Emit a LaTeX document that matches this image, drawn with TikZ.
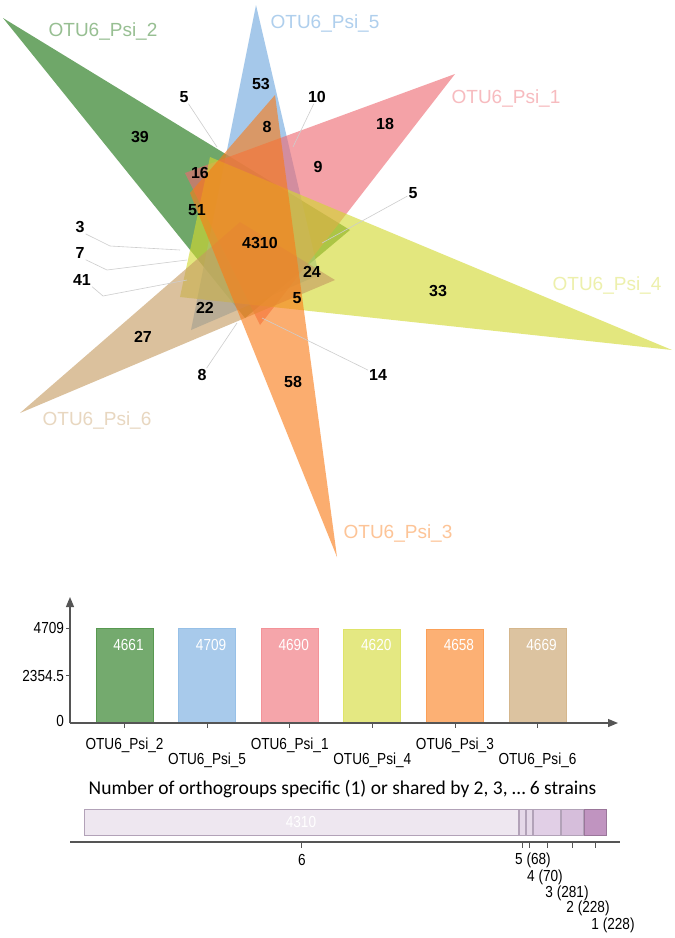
\documentclass[tikz,border=0pt]{standalone}
\usepackage{fontspec}
\setmainfont{Liberation Sans}
\newfontfamily\calibri{Carlito}
\usetikzlibrary{arrows.meta,positioning}
\definecolor{psitwo}{RGB}{23,113,13}
\definecolor{psifive}{RGB}{110,167,222}
\definecolor{psione}{RGB}{238,105,113}
\definecolor{psifour}{RGB}{210,217,47}
\definecolor{psithree}{RGB}{250,123,23}
\definecolor{psisix}{RGB}{197,155,97}
\definecolor{leadgray}{RGB}{205,205,205}
\definecolor{axisgray}{RGB}{85,85,85}
\definecolor{grpsix}{RGB}{238,231,240}
\definecolor{grpfive}{RGB}{229,216,232}
\definecolor{grpthree}{RGB}{225,207,230}
\definecolor{grptwo}{RGB}{214,190,219}
\definecolor{grpone}{RGB}{192,148,192}
\definecolor{lavgray}{RGB}{178,162,184}

\begin{document}
\begin{tikzpicture}[x=1pt,y=-1pt,
    setlbl/.style={font=\fontsize{19}{21}\selectfont},
    num/.style={font=\fontsize{16}{18}\selectfont\bfseries, inner sep=1pt},
    leader/.style={draw=leadgray, line width=0.6pt},
    cond/.style={xscale=0.85, inner sep=1pt, font=\fontsize{16}{18}\selectfont},
    axis/.style={draw=axisgray, line width=1.2pt}]
    \fill[white] (0,0) rectangle (675,938);
    \useasboundingbox (0,0) rectangle (675,938);

    % six triangles
    \coordinate (G1) at (3,18);    \coordinate (G2) at (350,230); \coordinate (G3) at (245,318);
    \coordinate (B1) at (256,5);   \coordinate (B2) at (191,330); \coordinate (B3) at (319,275);
    \coordinate (P1) at (455,74);  \coordinate (P2) at (185,173); \coordinate (P3) at (260,325);
    \coordinate (Y1) at (672,350); \coordinate (Y2) at (210,157); \coordinate (Y3) at (180,297);
    \coordinate (S1) at (20,413);  \coordinate (S2) at (240,222); \coordinate (S3) at (335,280);
    \coordinate (O1) at (337,557); \coordinate (O2) at (275,95);  \coordinate (O3) at (190,193);
    \foreach \t/\col in {G/psitwo,B/psifive,P/psione,Y/psifour,S/psisix,O/psithree}
        \fill[fill=\col, fill opacity=0.62] (\t1) -- (\t2) -- (\t3) -- cycle;

    % set names
    \node[setlbl, text=psitwo!45]   (set2) at (103,31)  {OTU6\_Psi\_2};
    \node[setlbl, text=psifive!55]  (set5) at (325,23)  {OTU6\_Psi\_5};
    \node[setlbl, text=psione!45]   (set1) at (506,98)  {OTU6\_Psi\_1};
    \node[setlbl, text=psifour!40]  (set4) at (607,285) {OTU6\_Psi\_4};
    \node[setlbl, text=psisix!40]   (set6) at (97,420)  {OTU6\_Psi\_6};
    \node[setlbl, text=psithree!45] (set3) at (398,533) {OTU6\_Psi\_3};

    % region counts
    \foreach \nm/\x/\y/\txt in {n53/261/84/53, nfivea/184/97/5, nten/317/97/10, n39/140/137/39,
        neighta/267/127/8, n18/385/124/18, n16/200/173/16, nnine/318/167/9, n51/197/210/51,
        nfiveb/413/193/5, nthree/80/227/3, nseven/80/253/7, n41/82/280/41, nall/260/243/4310,
        n24/312/272/24, nfivec/297/298/5, n33/438/291/33, n22/205/308/22, n27/143/337/27,
        neightb/202/375/8, n58/293/382/58, n14/378/375/14}
        \node[num] (\nm) at (\x,\y) {\txt};

    % leader lines
    \coordinate (pfivea) at (217,147);
    \coordinate (pten) at (293,147);
    \coordinate (pfiveb) at (322,243);
    \coordinate (kthree) at (110,246);  \coordinate (pthree) at (180,250);
    \coordinate (kseven) at (107,270);  \coordinate (pseven) at (187,260);
    \coordinate (k41) at (103,296);     \coordinate (p41) at (187,280);
    \coordinate (peightb) at (237,323);
    \coordinate (p14) at (262,318);
    \draw[leader] (nfivea) -- (pfivea);
    \draw[leader] (nten) -- (pten);
    \draw[leader] (nfiveb) -- (pfiveb);
    \draw[leader] (nthree.south east) -- (kthree) -- (pthree);
    \draw[leader] (nseven.south east) -- (kseven) -- (pseven);
    \draw[leader] (n41.south east) -- (k41) -- (p41);
    \draw[leader] (neightb) -- (peightb);
    \draw[leader] (n14) -- (p14);

    % bar chart of set sizes
    \foreach \lbl/\val/\col [count=\i] in {OTU6\_Psi\_2/4661/psitwo, OTU6\_Psi\_5/4709/psifive,
        OTU6\_Psi\_1/4690/psione, OTU6\_Psi\_4/4620/psifour, OTU6\_Psi\_3/4658/psithree,
        OTU6\_Psi\_6/4669/psisix} {
        \pgfmathsetmacro{\xc}{124.5+(\i-1)*82.6}
        \pgfmathsetmacro{\yt}{723-\val/4709*95}
        \pgfmathsetmacro{\yl}{ifthenelse(mod(\i,2)==1,745,760)}
        \draw[fill=\col!60, draw=\col!72, line width=1pt] (\xc-28.5,723) rectangle (\xc+28.5,\yt);
        \node[cond, text=white] (val\i) at (\xc+4,645) {\val};
        \draw[draw=axisgray, line width=0.8pt] (\xc,723) -- (\xc,728);
        \node[cond] (bar\i) at (\xc,\yl) {\lbl};
    }
    \coordinate (origin) at (70,723);
    \coordinate (ytop) at (70,597);
    \coordinate (xend) at (618,723);
    \draw[axis, -{Triangle[length=10pt,width=8pt]}] (origin) -- (ytop);
    \draw[axis, -{Triangle[length=10pt,width=8pt]}] (origin) -- (xend);
    \draw[draw=axisgray, line width=0.8pt] (66,628) -- (70,628) (66,675.5) -- (70,675.5);
    \node[cond, anchor=east] (ymax) at (65,628) {4709};
    \node[cond, anchor=east] (ymid) at (65,675.5) {2354.5};
    \node[cond, anchor=east] (yzero) at (65,721) {0};

    % orthogroups shared by k strains
    \node[font=\calibri\fontsize{19.5}{22}\selectfont] (title) at (342.5,789)
        {Number of orthogroups specific (1) or shared by 2, 3, \dots\ 6 strains};
    \foreach \a/\b/\col/\edge in {84/519/grpsix/lavgray, 519/526/grpfive/lavgray,
        526/533/grpfive/lavgray, 533/561/grpthree/lavgray, 561/584/grptwo/lavgray,
        584/607/grpone/grpone!80!black}
        \draw[fill=\col, draw=\edge, line width=0.9pt] (\a+0.9,809) rectangle (\b-0.9,835);
    \node[cond, text=white] (tot) at (301,822) {4310};
    \coordinate (sleft) at (70,842);
    \coordinate (sright) at (620,842);
    \draw[axis, line width=1.5pt] (sleft) -- (sright);
    \foreach \x in {301.5,522.5,529.5,547,572.5,595.5}
        \draw[draw=axisgray, line width=0.8pt] (\x,842) -- (\x,848);
    \node[cond] (ksix) at (302,860) {6};
    \node[cond] (kfive) at (533,860) {5 (68)};
    \node[cond] (kfour) at (545,877) {4 (70)};
    \node[cond] (kthree) at (567,893) {3 (281)};
    \node[cond] (ktwo) at (588,908) {2 (228)};
    \node[cond] (kone) at (613,925) {1 (228)};
\end{tikzpicture}
\end{document}
